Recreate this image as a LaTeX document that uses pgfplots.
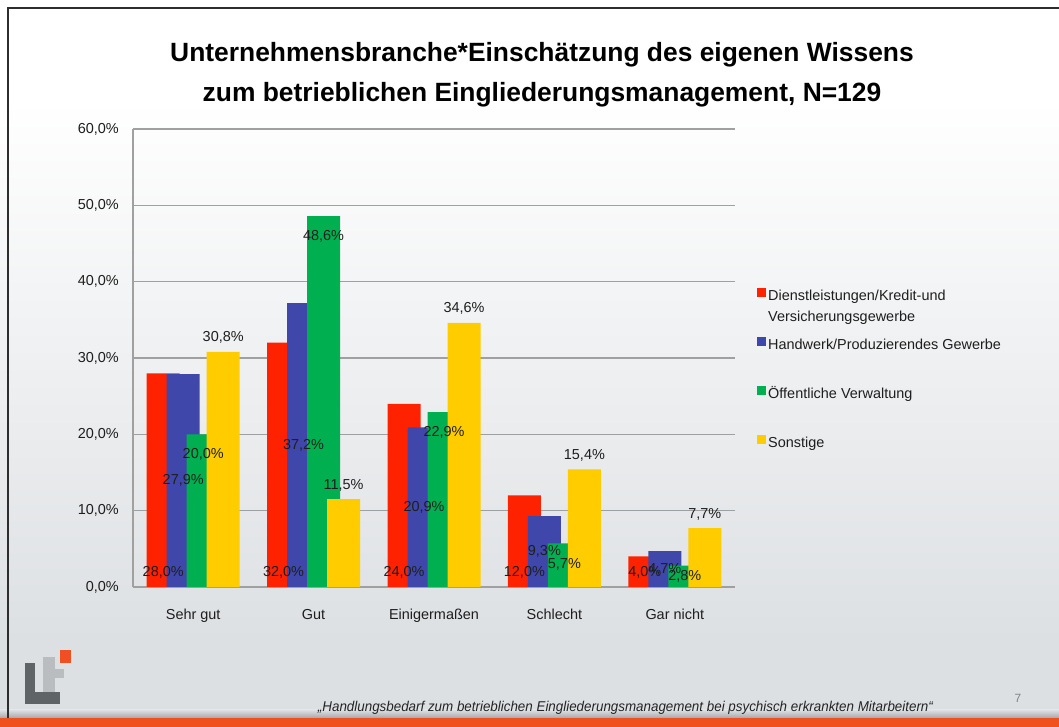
\documentclass[border=0pt]{standalone}
\usepackage{graphicx}
\usepackage{pgfplots}
\pgfplotsset{compat=1.18}
\usepackage{fontspec}
\setmainfont{Liberation Sans}
\definecolor{cRed}{RGB}{255,34,0}
\definecolor{cBlue}{RGB}{63,72,170}
\definecolor{cGreen}{RGB}{0,176,80}
\definecolor{cYellow}{RGB}{255,204,0}
\definecolor{bgGrey}{RGB}{221,224,227}
\definecolor{gridGrey}{RGB}{160,160,160}
\definecolor{txt}{RGB}{30,30,30}
\definecolor{orangeBar}{RGB}{240,80,30}
\definecolor{logoDark}{RGB}{95,100,103}
\definecolor{logoLight}{RGB}{185,189,192}
\definecolor{logoOrange}{RGB}{240,78,35}
\begin{document}
\begin{tikzpicture}[x=1bp,y=1bp]
% background
\fill[white] (0,0) rectangle (1059,727);
\fill[bgGrey] (0,0) rectangle (1059,88);
\shade[top color=white,bottom color=bgGrey] (0,87) rectangle (1059,627);
\shade[top color=bgGrey,bottom color={rgb,255:red,165;green,168;blue,171}] (0,9) rectangle (1059,17);
\fill[orangeBar] (0,0) rectangle (1059,9);
\draw[line width=1.5bp,color={rgb,255:red,45;green,45;blue,45}] (8,9) -- (8,719) -- (1059,719);
% logo
\fill[logoLight] (43,35) rectangle (55,70);
\fill[logoLight] (55,49) rectangle (64,58);
\fill[logoDark] (25,23) rectangle (35,64);
\fill[logoDark] (25,23) rectangle (60,35);
\fill[logoOrange] (60,64) rectangle (71,77);
% title
\node[anchor=base,inner sep=0pt,font=\fontsize{26.5}{30}\selectfont\bfseries,text=black] at (542,665) {Unternehmensbranche*Einschätzung des eigenen Wissens};
\node[anchor=base,inner sep=0pt,font=\fontsize{26.5}{30}\selectfont\bfseries,text=black] at (542,625) {zum betrieblichen Eingliederungsmanagement, N=129};
% footer
\node[anchor=base,inner sep=0pt,text={rgb,255:red,35;green,35;blue,35}] at (625.5,15) {\resizebox{615bp}{10.3bp}{\itshape „Handlungsbedarf zum betrieblichen Eingliederungsmanagement bei psychisch erkrankten Mitarbeitern“}};
\node[anchor=base,inner sep=0pt,text={rgb,255:red,130;green,130;blue,130},font=\fontsize{12}{14}\selectfont] at (1018,24) {7};
\begin{axis}[
  at={(133bp,140bp)}, anchor=south west,
  scale only axis, width=602bp, height=458bp,
  xmin=-0.5, xmax=4.5, ymin=0, ymax=60,
  clip=false,
  axis lines*=left,
  axis line style={gridGrey,line width=1.2bp},
  ymajorgrids, grid style={gridGrey,line width=1.2bp},
  major tick length=0pt,
  xtick={0,1,2,3,4},
  xticklabels={Sehr gut,Gut,Einigermaßen,Schlecht,Gar nicht},
  ytick={0,10,20,30,40,50,60},
  /pgf/number format/assume math mode=true,
  yticklabel={\pgfmathprintnumber[fixed,fixed zerofill,precision=1,use comma]{\tick}\%},
  ticklabel style={font=\fontsize{14.5}{17}\selectfont,text=txt},
  xticklabel style={anchor=base,yshift=-33bp},
  yticklabel style={anchor=east,inner sep=0pt,xshift=-14bp},
  ybar, bar width=33bp,
  nodes near coords={\pgfmathprintnumber[fixed,fixed zerofill,precision=1,use comma]{\pgfplotspointmeta}\%},
  every node near coord/.append style={font=\fontsize{14.5}{17}\selectfont,text=txt,inner sep=0pt},
]
% bars
\addplot[fill=cRed,draw=none,bar shift=-30bp,nodes near coords={}] coordinates {(0,28.0) (1,32.0) (2,24.0) (3,12.0) (4,4.0)};
\addplot[fill=cBlue,draw=none,bar shift=-10bp,nodes near coords={}] coordinates {(0,27.9) (1,37.2) (2,20.9) (3,9.3) (4,4.7)};
\addplot[fill=cGreen,draw=none,bar shift=10bp,nodes near coords={}] coordinates {(0,20.0) (1,48.6) (2,22.9) (3,5.7) (4,2.8)};
\addplot[fill=cYellow,draw=none,bar shift=30bp,nodes near coords={}] coordinates {(0,30.8) (1,11.5) (2,34.6) (3,15.4) (4,7.7)};
% labels (drawn on top)
\addplot[draw=none,fill=none,forget plot,bar shift=-30bp,
  visualization depends on={y \as \yv},
  every node near coord/.append style={anchor=base,yshift={(10-\yv*7.6333)*1bp}}]
  coordinates {(0,28.0) (1,32.0) (2,24.0) (3,12.0) (4,4.0)};
\addplot[draw=none,fill=none,forget plot,bar shift=-10bp,
  visualization depends on={y \as \yv},
  every node near coord/.append style={anchor=center,yshift={(-\yv*7.6333/2)*1bp}}]
  coordinates {(0,27.9) (1,37.2) (2,20.9) (3,9.3) (4,4.7)};
\addplot[draw=none,fill=none,forget plot,bar shift=10bp,
  visualization depends on={y \as \yv},
  every node near coord/.append style={anchor=center,yshift={(-min(20.5,\yv*7.6333-11))*1bp}}]
  coordinates {(0,20.0) (1,48.6) (2,22.9) (3,5.7) (4,2.8)};
\addplot[draw=none,fill=none,forget plot,bar shift=30bp,
  every node near coord/.append style={anchor=base,yshift=10bp}]
  coordinates {(0,30.8) (1,11.5) (2,34.6) (3,15.4) (4,7.7)};
\end{axis}
% legend
\begin{scope}[every node/.style={anchor=base west,inner sep=0pt,text=txt,font=\fontsize{14.5}{17}\selectfont}]
\fill[cRed] (757,430) rectangle (766,439);
\node at (768,426) {Dienstleistungen/Kredit-und};
\node at (768,405) {Versicherungsgewerbe};
\fill[cBlue] (757,381) rectangle (766,390);
\node at (768,377) {Handwerk/Produzierendes Gewerbe};
\fill[cGreen] (757,332) rectangle (766,341);
\node at (768,328) {Öffentliche Verwaltung};
\fill[cYellow] (757,283) rectangle (766,292);
\node at (768,279) {Sonstige};
\end{scope}
\pgfresetboundingbox
\useasboundingbox (0,0) rectangle (1059,727);
\end{tikzpicture}
\end{document}
